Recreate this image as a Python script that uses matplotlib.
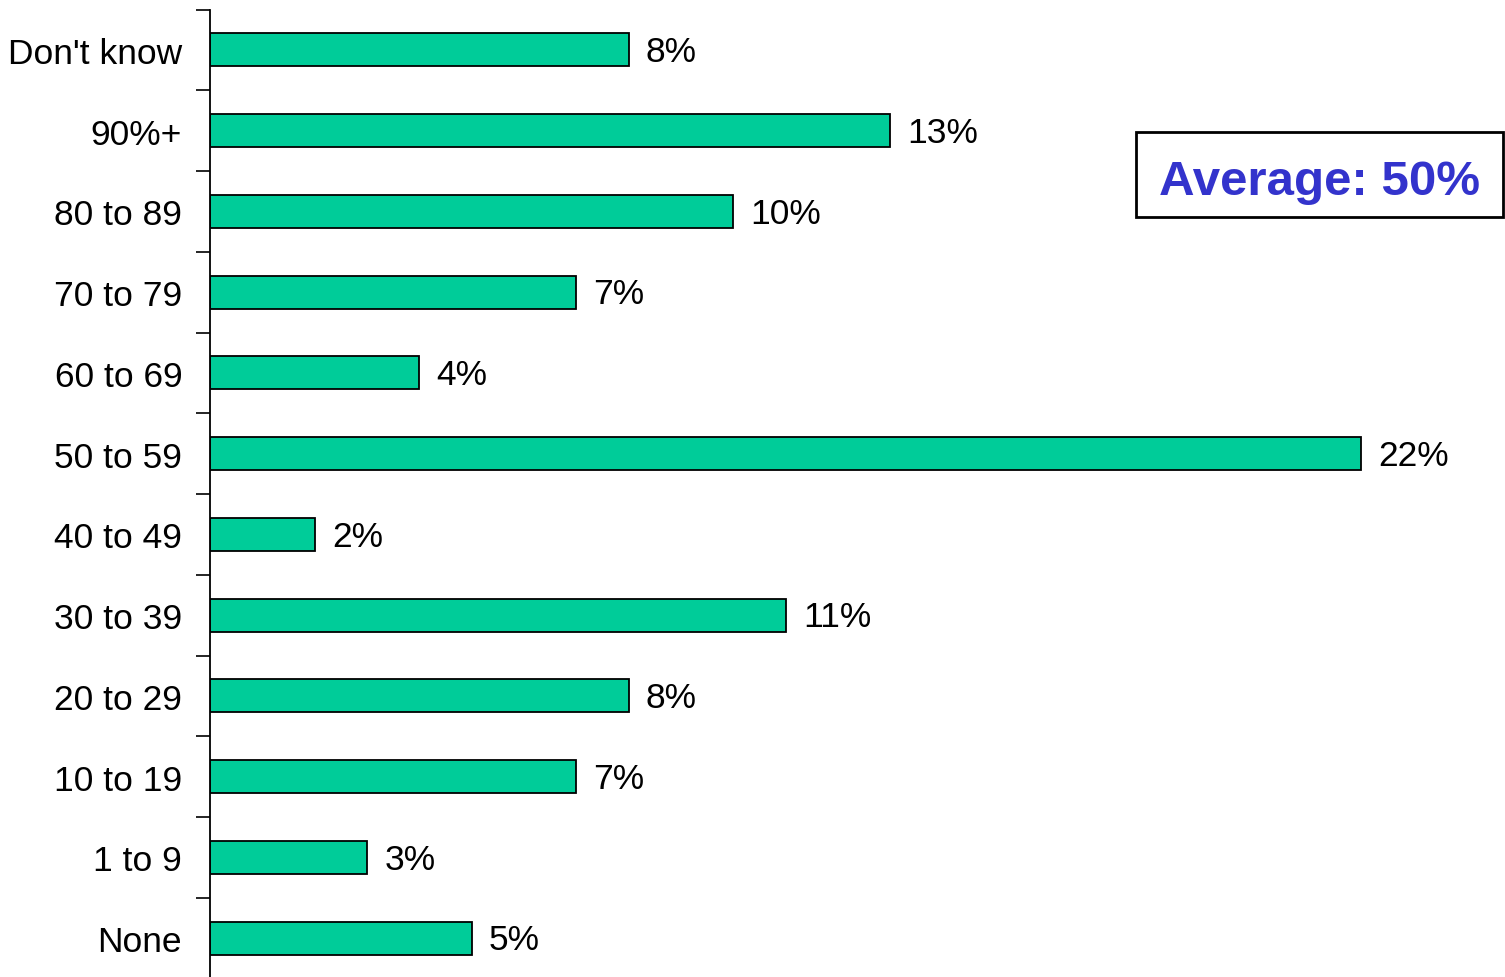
import matplotlib
matplotlib.use("Agg")
import matplotlib.pyplot as plt
from matplotlib.patches import Rectangle

plt.rcParams['font.family'] = ['Liberation Sans', 'DejaVu Sans']

categories = ["Don't know", "90%+", "80 to 89", "70 to 79", "60 to 69", "50 to 59",
              "40 to 49", "30 to 39", "20 to 29", "10 to 19", "1 to 9", "None"]
values = [8, 13, 10, 7, 4, 22, 2, 11, 8, 7, 3, 5]
average_label = "Average: 50%"

W, H = 1505, 978
fig = plt.figure(figsize=(W / 100, H / 100), dpi=100)
ax = fig.add_axes([210 / W, -1.5 / H, (W - 210) / W, (H - 9) / H])

y = list(range(len(categories)))
ax.barh(y, values, height=0.41, color="#00CC99", edgecolor="black", linewidth=1.3, zorder=2)

for yi, v in zip(y, values):
    ax.annotate(f"{v}%", xy=(v, yi), xytext=(12.5, -1.2), textcoords="offset points",
                va="center", ha="left", fontsize=25.5, color="black")

ax.set_xlim(0, (W - 210) / 52.32)
ax.set_ylim(len(categories) - 0.5, -0.5)

ax.set_yticks(y)
ax.set_yticklabels(categories, fontsize=25.5)
ax.tick_params(axis="y", which="major", length=0, pad=20)
ax.set_yticks([i - 0.5 for i in range(len(categories) + 1)], minor=True)
ax.tick_params(axis="y", which="minor", length=10, width=1.2, direction="out")
ax.set_xticks([])

for side in ("top", "right", "bottom"):
    ax.spines[side].set_visible(False)
ax.spines["left"].set_linewidth(1.3)

# Average callout box
x0, x1, y0, y1 = 1136, 1503, 133, 218
fig.patches.append(Rectangle((x0 / W, 1 - y1 / H), (x1 - x0) / W, (y1 - y0) / H,
                             transform=fig.transFigure, fill=False,
                             edgecolor="black", linewidth=2))
fig.text((x0 + x1) / 2 / W, 1 - 195 / H, average_label, ha="center", va="baseline",
         fontsize=35.5, fontweight="bold", color="#3333CC")

fig.savefig("out.png", dpi=100)
